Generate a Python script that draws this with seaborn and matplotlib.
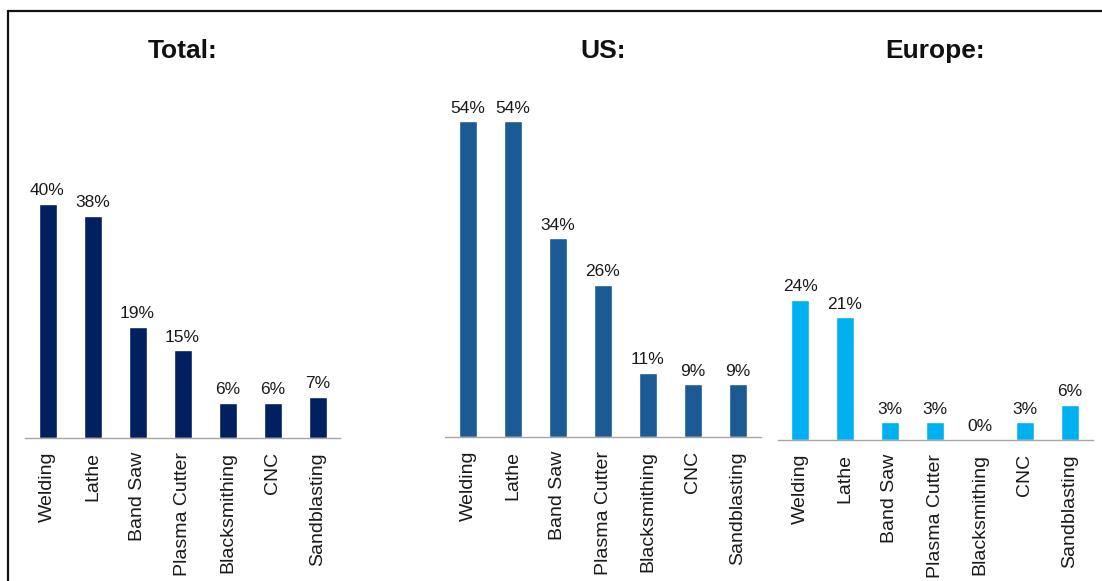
import matplotlib
matplotlib.use("Agg")
import matplotlib.pyplot as plt
from matplotlib.lines import Line2D
import seaborn as sns
import pandas as pd

sns.set_theme(style="white")
plt.rcParams["font.family"] = ["Liberation Sans", "DejaVu Sans"]

categories = ["Welding", "Lathe", "Band Saw", "Plasma Cutter",
              "Blacksmithing", "CNC", "Sandblasting"]
total_pct = [40, 38, 19, 15, 6, 6, 7]
us_pct = [54, 54, 34, 26, 11, 9, 9]
europe_pct = [24, 21, 3, 3, 0, 3, 6]

panel_titles = ["Total:", "US:", "Europe:"]
panel_colors = ["#002060", "#1B5A94", "#00B0F0"]

W, H = 1102, 581
fig = plt.figure(figsize=(W / 100, H / 100), dpi=100)

# axes placement in pixels: (left, right, baseline y from top)
layout = [(25, 340, 438), (445.5, 760.5, 437), (777.5, 1092.5, 440)]
px_per_pct = 5.85
top_px = 80

for (x0, x1, base), title, color, vals in zip(
        layout, panel_titles, panel_colors, [total_pct, us_pct, europe_pct]):
    ax = fig.add_axes([x0 / W, (H - base) / H, (x1 - x0) / W, (base - top_px) / H])
    df = pd.DataFrame({"category": categories, "pct": vals})
    sns.barplot(data=df, x="category", y="pct", color=color, width=0.4,
                saturation=1, ax=ax, errorbar=None)
    ax.set_ylim(0, (base - top_px) / px_per_pct)
    ax.set_xlim(-0.5, len(categories) - 0.5)
    for c in ax.containers:
        ax.bar_label(c, labels=[f"{v}%" for v in vals], padding=4,
                     fontsize=12.5, color="#1a1a1a")
    ax.set_xlabel("")
    ax.set_ylabel("")
    ax.set_yticks([])
    ax.tick_params(axis="x", length=0, pad=10, labelsize=14, labelcolor="#1a1a1a")
    plt.setp(ax.get_xticklabels(), rotation=90)
    for s in ["left", "right", "top"]:
        ax.spines[s].set_visible(False)
    ax.spines["bottom"].set_color("#A6A6A6")
    ax.spines["bottom"].set_linewidth(1.0)
    fig.text((x0 + x1) / 2 / W, 1 - 51 / H, title, ha="center", va="center",
             fontsize=19, fontweight="bold", color="#111111")

# outer frame (top and left edges)
fig.add_artist(Line2D([7.5 / W, 1], [1 - 10.5 / H, 1 - 10.5 / H],
                      transform=fig.transFigure, color="#111111", linewidth=1.6))
fig.add_artist(Line2D([7.5 / W, 7.5 / W], [0, 1 - 10.5 / H],
                      transform=fig.transFigure, color="#111111", linewidth=1.6))

fig.savefig("out.png", dpi=100, facecolor="white")
